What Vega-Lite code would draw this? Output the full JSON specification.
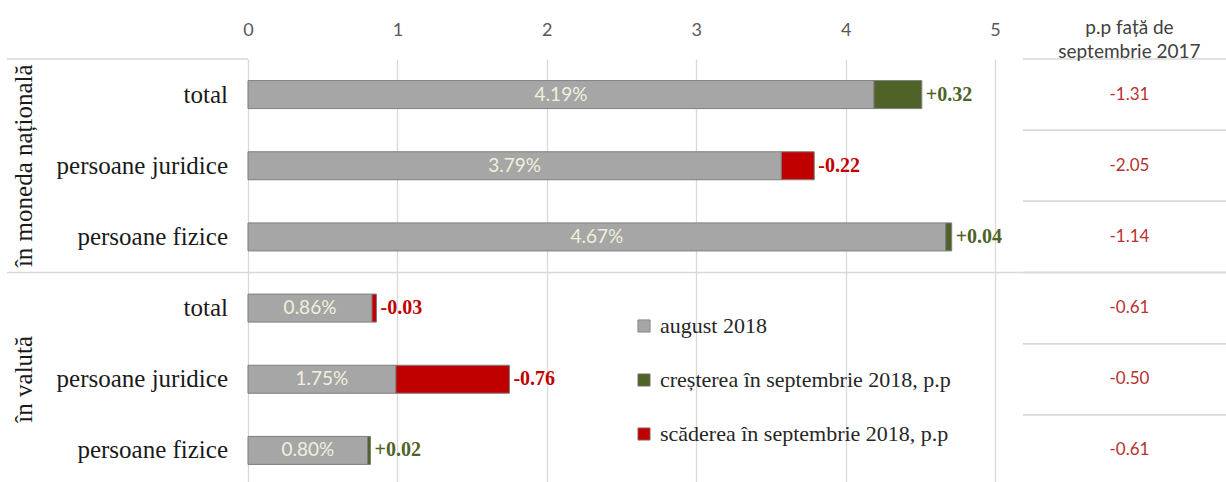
{
  "$schema": "https://vega.github.io/schema/vega-lite/v6.json",
  "autosize": "none",
  "width": 1226,
  "height": 427,
  "padding": {"top": 59, "left": 0, "right": 0, "bottom": 0},
  "background": "white",
  "config": {
    "view": {"stroke": null},
    "locale": {"number": {"decimal": ".", "thousands": ",", "grouping": [3], "currency": ["$", ""], "minus": "-"}}
  },
  "datasets": {
    "rows": [
      {"row": "r1", "cat": "total", "lo": 4.19, "hi": 4.51, "chg": 0.32, "type": "creșterea în septembrie 2018, p.p", "augLabel": "4.19%", "yoy": -1.31},
      {"row": "r2", "cat": "persoane juridice", "lo": 3.57, "hi": 3.79, "chg": -0.22, "type": "scăderea în septembrie 2018, p.p", "augLabel": "3.79%", "yoy": -2.05},
      {"row": "r3", "cat": "persoane fizice", "lo": 4.67, "hi": 4.71, "chg": 0.04, "type": "creșterea în septembrie 2018, p.p", "augLabel": "4.67%", "yoy": -1.14},
      {"row": "r4", "cat": "total", "lo": 0.83, "hi": 0.86, "chg": -0.03, "type": "scăderea în septembrie 2018, p.p", "augLabel": "0.86%", "yoy": -0.61},
      {"row": "r5", "cat": "persoane juridice", "lo": 0.99, "hi": 1.75, "chg": -0.76, "type": "scăderea în septembrie 2018, p.p", "augLabel": "1.75%", "yoy": -0.50},
      {"row": "r6", "cat": "persoane fizice", "lo": 0.80, "hi": 0.82, "chg": 0.02, "type": "creșterea în septembrie 2018, p.p", "augLabel": "0.80%", "yoy": -0.61}
    ],
    "groups": [
      {"grp": "în moneda națională", "row": "r2", "first": "r1"},
      {"grp": "în valută", "row": "r5", "first": "r4"}
    ],
    "header": [{"h": "p.p față de|septembrie 2017", "row": "r1"}]
  },
  "resolve": {"scale": {"x": "independent"}, "axis": {"x": "independent"}},
  "layer": [
    {
      "data": {"name": "rows"},
      "mark": {"type": "bar", "size": 28, "stroke": "#7f7f7f", "strokeWidth": 1},
      "encoding": {
        "y": {"field": "row", "type": "nominal", "sort": null, "axis": null,
              "scale": {"domain": ["r1", "r2", "r3", "r4", "r5", "r6"], "paddingInner": 0, "paddingOuter": 0}},
        "x": {"field": "lo", "type": "quantitative",
              "scale": {"domain": [-1.66, 6.546], "nice": false, "zero": false},
              "axis": {"orient": "top", "values": [0, 1, 2, 3, 4, 5], "title": null, "grid": true,
                       "gridColor": "#d9d9d9", "gridWidth": 1.3, "domain": false, "ticks": false,
                       "labelFont": "Lato", "labelFontSize": 18, "labelColor": "#595959", "labelPadding": 20}},
        "x2": {"datum": 0},
        "color": {"datum": "august 2018", "type": "nominal",
                  "scale": {"domain": ["august 2018", "creșterea în septembrie 2018, p.p", "scăderea în septembrie 2018, p.p"],
                            "range": ["#a6a6a6", "#4f6228", "#c00000"]},
                  "legend": {"orient": "none", "legendX": 633, "legendY": 256, "title": null,
                             "symbolType": "square", "symbolSize": 150, "symbolStrokeColor": "#8c8c8c", "symbolStrokeWidth": 0.8,
                             "labelFont": "Liberation Serif", "labelFontSize": 22, "labelColor": "#262626",
                             "labelOffset": 5, "rowPadding": 32, "labelLimit": 400}}
      }
    },
    {
      "data": {"name": "rows"},
      "mark": {"type": "bar", "size": 28, "stroke": "#7f7f7f", "strokeWidth": 1},
      "encoding": {
        "y": {"field": "row", "type": "nominal", "sort": null},
        "x": {"field": "lo", "type": "quantitative", "axis": null, "scale": {"domain": [-1.66, 6.546], "nice": false, "zero": false}},
        "x2": {"field": "hi"},
        "color": {"field": "type", "type": "nominal", "title": null, "legend": {"title": null}}
      }
    },
    {
      "data": {"name": "rows"},
      "mark": {"type": "text", "align": "left", "baseline": "middle", "dx": 4, "font": "Liberation Serif", "fontWeight": "bold", "fontSize": 20},
      "encoding": {
        "y": {"field": "row", "type": "nominal", "sort": null},
        "x": {"field": "hi", "type": "quantitative", "axis": null, "scale": {"domain": [-1.66, 6.546], "nice": false, "zero": false}},
        "text": {"field": "chg", "type": "quantitative", "format": "+.2f"},
        "color": {"condition": {"test": "datum.chg > 0", "value": "#4f6228"}, "value": "#c00000"}
      }
    },
    {
      "data": {"name": "rows"},
      "mark": {"type": "text", "align": "center", "baseline": "middle", "font": "Lato", "fontSize": 19, "color": "#f0f0dc"},
      "encoding": {
        "y": {"field": "row", "type": "nominal", "sort": null},
        "x": {"field": "lo", "type": "quantitative", "axis": null,
              "scale": {"domain": [-3.32, 13.092], "nice": false, "zero": false}},
        "text": {"field": "augLabel", "type": "nominal"}
      }
    },
    {
      "data": {"name": "rows"},
      "mark": {"type": "text", "align": "right", "baseline": "middle", "font": "Liberation Serif", "fontSize": 25, "color": "#1a1a1a"},
      "encoding": {
        "y": {"field": "row", "type": "nominal", "sort": null},
        "x": {"datum": -0.134, "type": "quantitative", "axis": null, "scale": {"domain": [-1.66, 6.546], "nice": false, "zero": false}},
        "text": {"field": "cat", "type": "nominal"}
      }
    },
    {
      "data": {"name": "rows"},
      "mark": {"type": "text", "align": "center", "baseline": "middle", "font": "Lato", "fontSize": 17, "color": "#b8312f"},
      "encoding": {
        "y": {"field": "row", "type": "nominal", "sort": null},
        "x": {"datum": 5.9, "type": "quantitative", "axis": null, "scale": {"domain": [-1.66, 6.546], "nice": false, "zero": false}},
        "text": {"field": "yoy", "type": "quantitative", "format": ".2f"}
      }
    },
    {
      "data": {"name": "groups"},
      "mark": {"type": "text", "align": "center", "baseline": "middle", "angle": 270, "font": "Liberation Serif", "fontSize": 25, "color": "#1a1a1a"},
      "encoding": {
        "y": {"field": "row", "type": "nominal", "sort": null},
        "x": {"datum": -1.5, "type": "quantitative", "axis": null, "scale": {"domain": [-1.66, 6.546], "nice": false, "zero": false}},
        "text": {"field": "grp", "type": "nominal"}
      }
    },
    {
      "data": {"name": "groups"},
      "mark": {"type": "rule", "color": "#d9d9d9", "strokeWidth": 1.5},
      "encoding": {
        "y": {"field": "first", "type": "nominal", "sort": null, "bandPosition": 0},
        "x": {"datum": -1.613, "type": "quantitative", "axis": null, "scale": {"domain": [-1.66, 6.546], "nice": false, "zero": false}},
        "x2": {"datum": 0}
      }
    },
    {
      "data": {"name": "groups"},
      "transform": [{"filter": "datum.first == 'r4'"}],
      "mark": {"type": "rule", "color": "#d9d9d9", "strokeWidth": 1.5},
      "encoding": {
        "y": {"field": "first", "type": "nominal", "sort": null, "bandPosition": 0},
        "x": {"datum": 0, "type": "quantitative", "axis": null, "scale": {"domain": [-1.66, 6.546], "nice": false, "zero": false}},
        "x2": {"datum": 6.546}
      }
    },
    {
      "data": {"name": "rows"},
      "mark": {"type": "rule", "color": "#d9d9d9", "strokeWidth": 1.5},
      "encoding": {
        "y": {"field": "row", "type": "nominal", "sort": null, "bandPosition": 0},
        "x": {"datum": 5.187, "type": "quantitative", "axis": null, "scale": {"domain": [-1.66, 6.546], "nice": false, "zero": false}},
        "x2": {"datum": 6.546}
      }
    },
    {
      "data": {"name": "rows"},
      "mark": {"type": "rule", "color": "#d9d9d9", "strokeWidth": 1.5},
      "encoding": {
        "y": {"field": "row", "type": "nominal", "sort": null, "bandPosition": 1},
        "x": {"datum": 5.187, "type": "quantitative", "axis": null, "scale": {"domain": [-1.66, 6.546], "nice": false, "zero": false}},
        "x2": {"datum": 6.546}
      }
    },
    {
      "data": {"name": "header"},
      "mark": {"type": "text", "align": "center", "baseline": "bottom", "dy": -21, "font": "Lato", "fontSize": 19, "lineHeight": 24, "lineBreak": "|", "letterSpacing": 1.9, "color": "#404040"},
      "encoding": {
        "y": {"field": "row", "type": "nominal", "sort": null, "bandPosition": 0},
        "x": {"datum": 5.9, "type": "quantitative", "axis": null, "scale": {"domain": [-1.66, 6.546], "nice": false, "zero": false}},
        "text": {"field": "h", "type": "nominal"}
      }
    }
  ]
}
